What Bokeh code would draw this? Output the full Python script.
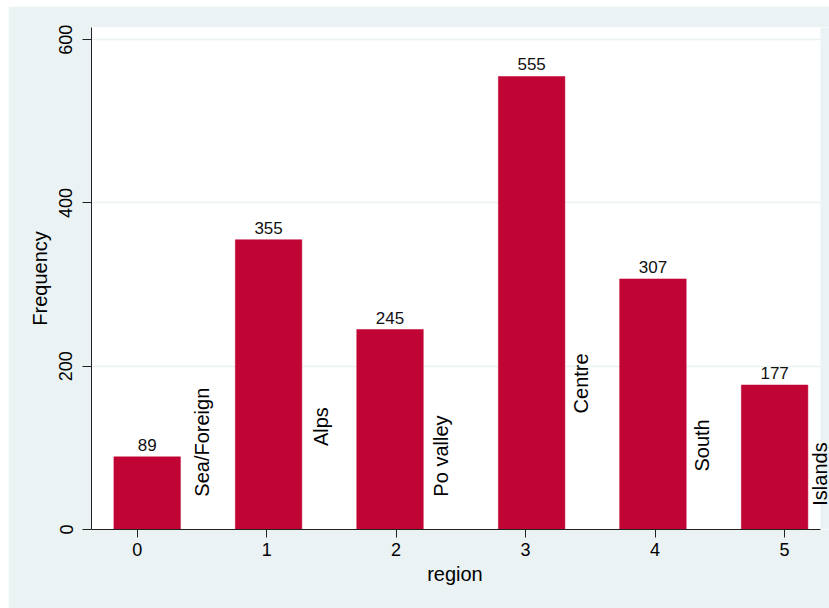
import math
from bokeh.plotting import figure
from bokeh.models import ColumnDataSource, LabelSet, FixedTicker, Range1d, BoxAnnotation
from bokeh.core.properties import value
from bokeh.embed import file_html
from bokeh.resources import INLINE

# Frequency of observations by region code
region_codes = [0, 1, 2, 3, 4, 5]
region_names = ["Sea/Foreign", "Alps", "Po valley", "Centre", "South", "Islands"]
frequency = [89, 355, 245, 555, 307, 177]

x_ticks = [0, 1, 2, 3, 4, 5]
y_ticks = [0, 200, 400, 600]

# Layout: bar shifts from the region code, and placement of the vertical name labels
bar_shift = [0.077, 0.015, -0.047, 0.047, -0.016, -0.076]
bar_width = 0.514
name_shift = [0.503, 0.417, 0.349, 0.431, 0.363, 0.277]
name_y = [107, 126, 90, 179, 103, 68]

X_LO, X_HI = -0.353, 5.278   # white plot region
X_CANVAS = 5.348             # drawing area runs on to the right edge so names are not cut

FONT = "Liberation Sans"
BAR = "#C00535"
BG = "#EAF2F3"

src = ColumnDataSource(dict(
    x=[c + s for c, s in zip(region_codes, bar_shift)],
    top=frequency,
    lbl=[str(v) for v in frequency],
))
name_src = ColumnDataSource(dict(
    x=[c + s for c, s in zip(region_codes, name_shift)],
    y=name_y,
    name=region_names,
))

p = figure(width=821, height=602, output_backend="svg", toolbar_location=None,
           x_range=Range1d(X_LO, X_CANVAS), y_range=Range1d(0, 615),
           min_border_left=83, min_border_right=0, min_border_top=21,
           min_border_bottom=79, margin=(6, 0, 0, 8))
p.background_fill_color = "white"
p.border_fill_color = BG
p.outline_line_color = None

p.vbar(x="x", top="top", bottom=0, width=bar_width, source=src,
       fill_color=BAR, line_color=BAR, line_width=0.5)

# strip right of the plot region keeps the outer background colour
p.add_layout(BoxAnnotation(left=X_HI, fill_color=BG, fill_alpha=1.0,
                           line_color=None))

p.add_layout(LabelSet(x="x", y="top", text="lbl", source=src,
                      text_align="center", text_baseline="bottom", y_offset=6,
                      text_font=value(FONT), text_font_size="17px",
                      text_color="#111111"))
p.add_layout(LabelSet(x="x", y="y", text="name", source=name_src,
                      angle=math.pi / 2, text_align="center",
                      text_baseline="middle",
                      text_font=value(FONT), text_font_size="20px",
                      text_color="#000000"))

# grid
p.xgrid.visible = False
p.ygrid.grid_line_color = BG
p.ygrid.grid_line_width = 1.5
p.ygrid.ticker = FixedTicker(ticks=y_ticks)

# axes
for ax in (p.xaxis[0], p.yaxis[0]):
    ax.axis_line_color = "#222222"
    ax.axis_line_width = 1
    ax.major_tick_line_color = "#222222"
    ax.minor_tick_line_color = None
    ax.major_tick_in = 0
    ax.major_label_text_font = FONT
    ax.major_label_text_font_size = "18px"
    ax.major_label_text_color = "#000000"
    ax.axis_label_text_font = FONT
    ax.axis_label_text_font_size = "20px"
    ax.axis_label_text_font_style = "normal"
    ax.axis_label_text_color = "#000000"

p.xaxis.ticker = FixedTicker(ticks=x_ticks)
p.xaxis.bounds = (X_LO, X_HI)
# two trailing no-break spaces centre the title under the white plot region
p.xaxis.axis_label = "region\u00a0\u00a0"
p.xaxis.major_tick_out = 8
p.xaxis.major_label_standoff = 5
p.xaxis.axis_label_standoff = 4

p.yaxis.ticker = FixedTicker(ticks=y_ticks)
p.yaxis.axis_label = "Frequency"
p.yaxis.major_tick_out = 9
p.yaxis.major_label_orientation = "vertical"
p.yaxis.major_label_standoff = 10
p.yaxis.axis_label_standoff = 6

open("out.html", "w").write(file_html(p, INLINE))
